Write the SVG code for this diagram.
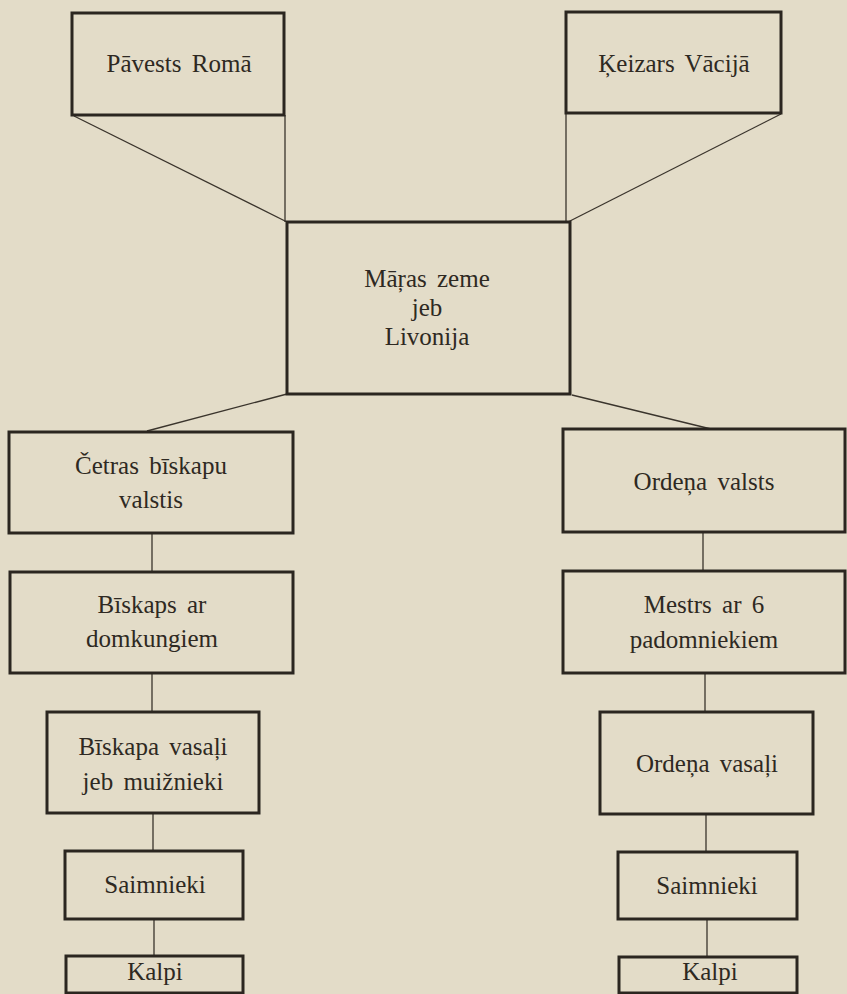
<svg xmlns="http://www.w3.org/2000/svg" width="847" height="994" viewBox="0 0 847 994">
<style>
.box{fill:none;stroke:#2b2620;stroke-width:3}
.ln{fill:none;stroke:#3a342c;stroke-width:1.3}
text{font-family:"Liberation Serif","Times New Roman",serif;font-size:25px;fill:#2e2922;text-anchor:middle;word-spacing:4px}
</style>
<rect x="0" y="0" width="847" height="994" fill="#e3dcc8"/>
<g id="connectors">
<line class="ln" x1="74" y1="116" x2="287" y2="222"/>
<line class="ln" x1="285" y1="115" x2="285" y2="222"/>
<line class="ln" x1="781" y1="114" x2="568" y2="222"/>
<line class="ln" x1="566" y1="113" x2="566" y2="222"/>
<line class="ln" x1="287" y1="394" x2="147" y2="431"/>
<line class="ln" x1="572" y1="395" x2="711" y2="429"/>
<line class="ln" x1="152" y1="533" x2="152" y2="572"/>
<line class="ln" x1="152" y1="673" x2="152" y2="712"/>
<line class="ln" x1="153" y1="813" x2="153" y2="851"/>
<line class="ln" x1="154" y1="919" x2="154" y2="956"/>
<line class="ln" x1="703" y1="532" x2="703" y2="571"/>
<line class="ln" x1="705" y1="673" x2="705" y2="712"/>
<line class="ln" x1="706" y1="814" x2="706" y2="852"/>
<line class="ln" x1="707" y1="919" x2="707" y2="957"/>
</g>
<g id="pavests"><rect class="box" x="72" y="13" width="212" height="102"/><text x="179" y="72">Pāvests Romā</text></g>
<g id="keizars"><rect class="box" x="566" y="12" width="215" height="101"/><text x="674" y="72">Ķeizars Vācijā</text></g>
<g id="livonija"><rect class="box" x="287" y="222" width="283" height="172"/><text x="427" y="287">Māŗas zeme</text><text x="427" y="316">jeb</text><text x="427" y="345">Livonija</text></g>
<g id="biskapu-valstis"><rect class="box" x="9" y="432" width="284" height="101"/><text x="151" y="474">Četras bīskapu</text><text x="151" y="508">valstis</text></g>
<g id="biskaps"><rect class="box" x="10" y="572" width="283" height="101"/><text x="152" y="613">Bīskaps ar</text><text x="152" y="647">domkungiem</text></g>
<g id="biskapa-vasali"><rect class="box" x="47" y="712" width="212" height="101"/><text x="153" y="755">Bīskapa vasaļi</text><text x="153" y="790">jeb muižnieki</text></g>
<g id="saimnieki-l"><rect class="box" x="65" y="851" width="178" height="68"/><text x="155" y="893">Saimnieki</text></g>
<g id="kalpi-l"><rect class="box" x="66" y="956" width="177" height="37"/><text x="155" y="980">Kalpi</text></g>
<g id="ordena-valsts"><rect class="box" x="563" y="429" width="282" height="103"/><text x="704" y="490">Ordeņa valsts</text></g>
<g id="mestrs"><rect class="box" x="563" y="571" width="282" height="102"/><text x="704" y="613">Mestrs ar 6</text><text x="704" y="648">padomniekiem</text></g>
<g id="ordena-vasali"><rect class="box" x="600" y="712" width="213" height="102"/><text x="707" y="772">Ordeņa vasaļi</text></g>
<g id="saimnieki-r"><rect class="box" x="618" y="852" width="179" height="67"/><text x="707" y="894">Saimnieki</text></g>
<g id="kalpi-r"><rect class="box" x="619" y="957" width="178" height="36"/><text x="710" y="980">Kalpi</text></g>
</svg>
